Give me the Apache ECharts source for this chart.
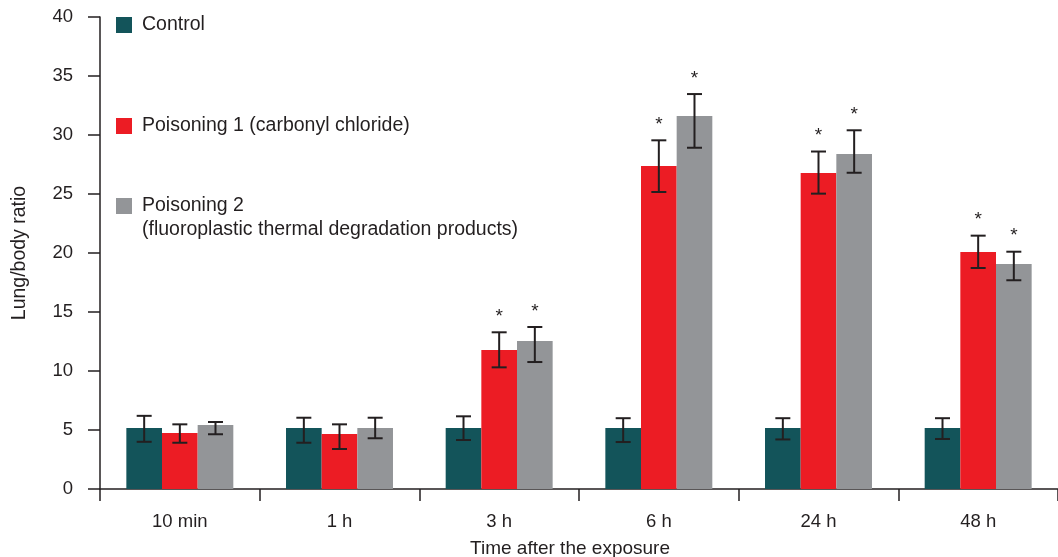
<!DOCTYPE html>
<html><head><meta charset="utf-8">
<script src="https://cdn.jsdelivr.net/npm/echarts@6/dist/echarts.min.js"></script>
<style>html,body{margin:0;padding:0;background:#fff}#c{width:1058px;height:557px}</style>
</head><body><div id="c"></div>
<script>
const categories = ['10 min', '1 h', '3 h', '6 h', '24 h', '48 h'];
const seriesNames = ['Control', 'Poisoning 1 (carbonyl chloride)', 'Poisoning 2'];
const legendSecondLine = '(fluoroplastic thermal degradation products)';
const control = [5.17, 5.17, 5.17, 5.17, 5.17, 5.17];
const controlLow = [4.0, 3.92, 4.15, 3.98, 4.2, 4.24];
const controlHigh = [6.2, 6.04, 6.16, 6.0, 6.0, 6.0];
const poison1 = [4.75, 4.66, 11.78, 27.37, 26.78, 20.08];
const poison1Low = [3.92, 3.39, 10.31, 25.17, 25.03, 18.73];
const poison1High = [5.48, 5.48, 13.28, 29.55, 28.6, 21.47];
const poison2 = [5.42, 5.17, 12.54, 31.6, 28.39, 19.07];
const poison2Low = [4.64, 4.3, 10.76, 28.92, 26.8, 17.69];
const poison2High = [5.68, 6.04, 13.73, 33.47, 30.4, 20.11];
const poison1Star = [false, false, true, true, true, true];
const poison2Star = [false, false, true, true, true, true];
const colors = ['#13545a', '#ec1c24', '#939598'];
const yTicks = { min: 0, max: 40, interval: 5 };

const FONT = 'Liberation Sans, Arial, sans-serif';
const TXT = '#231f20';
const barFrac = 0.67;

function errSeries(idx, low, high, stars) {
  return {
    type: 'custom', z: 5,
    data: categories.map((c, i) => [i, low[i], high[i], stars[i] ? 1 : 0]),
    renderItem: function (params, api) {
      const band = api.size([1, 0])[0];
      const bw = band * barFrac / 3;
      const off = (idx - 1) * bw;
      const lo = api.coord([api.value(0), api.value(1)]);
      const hi = api.coord([api.value(0), api.value(2)]);
      const x = lo[0] + off;
      const cap = 7.5;
      const st = { stroke: TXT, lineWidth: 2 };
      const children = [
        { type: 'line', shape: { x1: x, y1: lo[1], x2: x, y2: hi[1] }, style: st },
        { type: 'line', shape: { x1: x - cap, y1: lo[1], x2: x + cap, y2: lo[1] }, style: st },
        { type: 'line', shape: { x1: x - cap, y1: hi[1], x2: x + cap, y2: hi[1] }, style: st }
      ];
      if (api.value(3)) {
        children.push({ type: 'text', style: { text: '*', x: x, y: hi[1] - 6, align: 'center', verticalAlign: 'bottom', font: '19px ' + FONT, fill: TXT } });
      }
      return { type: 'group', children: children };
    }
  };
}

const chart = echarts.init(document.getElementById('c'));
chart.setOption({
  animation: false,
  grid: { left: 100, right: 0, top: 17, bottom: 68, outerBoundsMode: 'none', containLabel: false },
  xAxis: {
    type: 'category', data: categories,
    name: 'Time after the exposure', nameLocation: 'middle', nameGap: 50,
    nameTextStyle: { fontFamily: FONT, fontSize: 19, color: TXT, padding: [0, 18, 0, 0] },
    axisLine: { lineStyle: { color: TXT, width: 1.5 } },
    axisTick: { show: true, interval: 0, length: 12, lineStyle: { color: TXT, width: 1.5 } },
    axisLabel: { margin: 23, fontFamily: FONT, fontSize: 18.5, color: TXT }
  },
  yAxis: {
    type: 'value', min: yTicks.min, max: yTicks.max, interval: yTicks.interval,
    name: 'Lung/body ratio', nameLocation: 'middle', nameGap: 70,
    nameTextStyle: { fontFamily: FONT, fontSize: 19.5, color: TXT },
    axisLine: { show: true, lineStyle: { color: TXT, width: 1.5 } },
    axisTick: { show: true, length: 12, lineStyle: { color: TXT, width: 1.5 } },
    axisLabel: { margin: 27, fontFamily: FONT, fontSize: 18.5, color: TXT },
    splitLine: { show: false }
  },
  series: [
    { type: 'bar', name: seriesNames[0], data: control, itemStyle: { color: colors[0] }, barGap: '0%', barCategoryGap: '33%' },
    { type: 'bar', name: seriesNames[1], data: poison1, itemStyle: { color: colors[1] }, barGap: '0%', barCategoryGap: '33%' },
    { type: 'bar', name: seriesNames[2], data: poison2, itemStyle: { color: colors[2] }, barGap: '0%', barCategoryGap: '33%' },
    errSeries(0, controlLow, controlHigh, [false, false, false, false, false, false]),
    errSeries(1, poison1Low, poison1High, poison1Star),
    errSeries(2, poison2Low, poison2High, poison2Star)
  ],
  graphic: [
    { type: 'rect', x: 116, y: 17, shape: { width: 16, height: 16 }, style: { fill: colors[0] } },
    { type: 'text', x: 142, y: 25, style: { text: seriesNames[0], font: '19.5px ' + FONT, fill: TXT, verticalAlign: 'middle' } },
    { type: 'rect', x: 116, y: 118, shape: { width: 16, height: 16 }, style: { fill: colors[1] } },
    { type: 'text', x: 142, y: 126, style: { text: seriesNames[1], font: '19.5px ' + FONT, fill: TXT, verticalAlign: 'middle' } },
    { type: 'rect', x: 116, y: 198, shape: { width: 16, height: 16 }, style: { fill: colors[2] } },
    { type: 'text', x: 142, y: 206, style: { text: seriesNames[2], font: '19.5px ' + FONT, fill: TXT, verticalAlign: 'middle' } },
    { type: 'text', x: 142, y: 230, style: { text: legendSecondLine, font: '19.5px ' + FONT, fill: TXT, verticalAlign: 'middle' } }
  ]
});
</script></body></html>
